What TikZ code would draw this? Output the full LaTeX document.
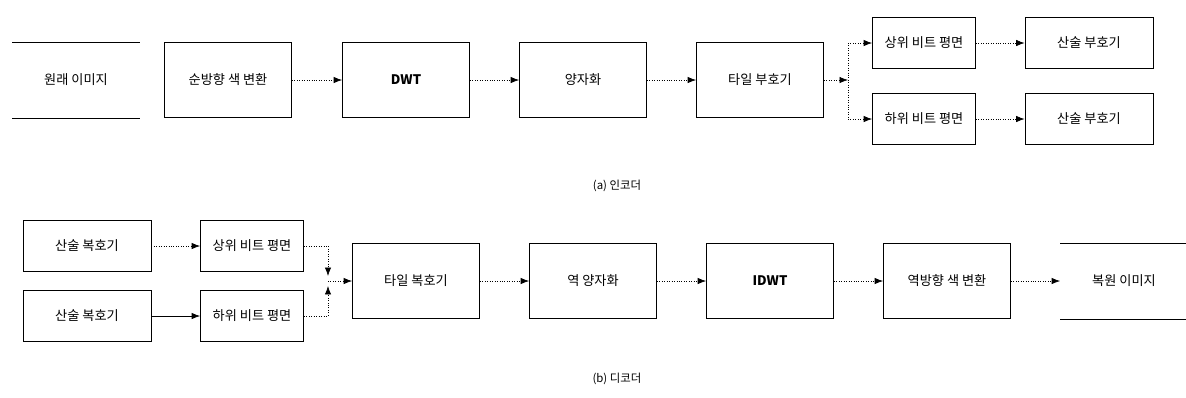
\documentclass[tikz,border=0pt]{standalone}
\usepackage{fontspec}
\setmainfont{Noto Sans CJK KR}
\usetikzlibrary{arrows.meta,calc,positioning}

\tikzset{
  blk/.style={draw,thin,minimum width=2.54cm,minimum height=1.5cm,inner sep=1pt,font=\fontsize{7.5}{9}\selectfont},
  sblk/.style={blk,minimum width=2.06cm,minimum height=1.02cm},
  ablk/.style={blk,minimum width=2.56cm,minimum height=1.02cm},
  plain/.style={blk,draw=none},
  link/.style={->,densely dotted,thin},
}

\begin{document}
\begin{tikzpicture}[>=Latex,x=0.02cm,y=-0.02cm]
		\useasboundingbox (0,0) rectangle (1186,397);
		
		% Encoder
		\node[plain] (src) at (76,80) {원래 이미지};
		\draw (src.north west)--(src.north east);
		\draw (src.south west)--(src.south east);
		\node[blk] (fwd) at (228,80) {순방향 색 변환};
		\node[blk] (dwt) at (406,80) {\textbf{DWT}};
		\node[blk] (quant) at (583,80) {양자화};
		\node[blk] (tenc) at (760,80) {타일 부호기};
		\coordinate (fork) at (848,80);
		\node[sblk] (hiE) at (924,43) {상위 비트 평면};
		\node[sblk] (loE) at (924,119) {하위 비트 평면};
		\node[ablk] (arE1) at (1089,43) {산술 부호기};
		\node[ablk] (arE2) at (1089,119) {산술 부호기};
		
		\draw[link] (fwd)--(dwt);
		\draw[link] (dwt)--(quant);
		\draw[link] (quant)--(tenc);
		\draw[link] (tenc)--(fork);
		\draw[densely dotted,thin] (fork|-hiE) -- (fork|-loE);
		\draw[link] (fork|-hiE)--(hiE);
		\draw[link] (fork|-loE)--(loE);
		\draw[link] (hiE)--(arE1);
		\draw[link] (loE)--(arE2);
		
		\node[font=\fontsize{6.5}{8}\selectfont] (capa) at (617,186) {(a) 인코더};
		
		% Decoder
		\node[ablk] (arD1) at (87,246) {산술 복호기};
		\node[ablk] (arD2) at (87,316) {산술 복호기};
		\node[sblk] (hiD) at (252,246) {상위 비트 평면};
		\node[sblk] (loD) at (252,316) {하위 비트 평면};
		\coordinate (join) at (328,281);
		\node[blk] (tdec) at (416,281) {타일 복호기};
		\node[blk] (iquant) at (593,281) {역 양자화};
		\node[blk] (idwt) at (770,281) {\textbf{IDWT}};
		\node[blk] (inv) at (947,281) {역방향 색 변환};
		\node[plain] (out) at (1124,281) {복원 이미지};
		\draw (out.north west)--(out.north east);
		\draw (out.south west)--(out.south east);
		
		\draw[link] (arD1)--(hiD);
		\draw[->,thin] (arD2)--(loD);
		\draw[link] (hiD.east) -| ($(join)+(0,-5)$);
		\draw[link] (loD.east) -| ($(join)+(0,5)$);
		\draw[link] (join)--(tdec);
		\draw[link] (tdec)--(iquant);
		\draw[link] (iquant)--(idwt);
		\draw[link] (idwt)--(inv);
		\draw[link] (inv)--(out);
		
		\node[font=\fontsize{6.5}{8}\selectfont] (capb) at (617,379) {(b) 디코더};
		
	\end{tikzpicture}
\end{document}
